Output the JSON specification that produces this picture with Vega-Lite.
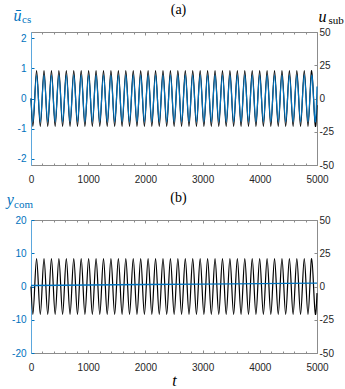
{
  "$schema": "https://vega.github.io/schema/vega-lite/v6.json",
  "background": "white",
  "padding": {"left": 6, "top": 2, "right": 0, "bottom": 0},
  "spacing": 55,
  "bounds": "flush",
  "config": {
    "view": {"stroke": null},
    "axis": {"labelFont": "Liberation Sans", "labelFontSize": 10, "labelColor": "#262626", "tickSize": -3, "tickColor": "#8c8c8c", "domainColor": "#8c8c8c", "domainWidth": 1, "tickWidth": 1, "grid": false, "titleFontWeight": "normal", "labelFlush": false, "labelOverlap": false}
  },
  "datasets": {
    "osc": [
      {"t":0,"u":0,"c":0},{"t":32.5,"u":-21,"c":-0.77},{"t":65,"u":0,"c":0},{"t":97.5,"u":21,"c":0.77},
      {"t":130,"u":0,"c":0},{"t":162.5,"u":-21,"c":-0.77},{"t":195,"u":0,"c":0},{"t":227.5,"u":21,"c":0.77},
      {"t":260,"u":0,"c":0},{"t":292.5,"u":-21,"c":-0.77},{"t":325,"u":0,"c":0},{"t":357.5,"u":21,"c":0.77},
      {"t":390,"u":0,"c":0},{"t":422.5,"u":-21,"c":-0.77},{"t":455,"u":0,"c":0},{"t":487.5,"u":21,"c":0.77},
      {"t":520,"u":0,"c":0},{"t":552.5,"u":-21,"c":-0.77},{"t":585,"u":0,"c":0},{"t":617.5,"u":21,"c":0.77},
      {"t":650,"u":0,"c":0},{"t":682.5,"u":-21,"c":-0.77},{"t":715,"u":0,"c":0},{"t":747.5,"u":21,"c":0.77},
      {"t":780,"u":0,"c":0},{"t":812.5,"u":-21,"c":-0.77},{"t":845,"u":0,"c":0},{"t":877.5,"u":21,"c":0.77},
      {"t":910,"u":0,"c":0},{"t":942.5,"u":-21,"c":-0.77},{"t":975,"u":0,"c":0},{"t":1007.5,"u":21,"c":0.77},
      {"t":1040,"u":0,"c":0},{"t":1072.5,"u":-21,"c":-0.77},{"t":1105,"u":0,"c":0},{"t":1137.5,"u":21,"c":0.77},
      {"t":1170,"u":0,"c":0},{"t":1202.5,"u":-21,"c":-0.77},{"t":1235,"u":0,"c":0},{"t":1267.5,"u":21,"c":0.77},
      {"t":1300,"u":0,"c":0},{"t":1332.5,"u":-21,"c":-0.77},{"t":1365,"u":0,"c":0},{"t":1397.5,"u":21,"c":0.77},
      {"t":1430,"u":0,"c":0},{"t":1462.5,"u":-21,"c":-0.77},{"t":1495,"u":0,"c":0},{"t":1527.5,"u":21,"c":0.77},
      {"t":1560,"u":0,"c":0},{"t":1592.5,"u":-21,"c":-0.77},{"t":1625,"u":0,"c":0},{"t":1657.5,"u":21,"c":0.77},
      {"t":1690,"u":0,"c":0},{"t":1722.5,"u":-21,"c":-0.77},{"t":1755,"u":0,"c":0},{"t":1787.5,"u":21,"c":0.77},
      {"t":1820,"u":0,"c":0},{"t":1852.5,"u":-21,"c":-0.77},{"t":1885,"u":0,"c":0},{"t":1917.5,"u":21,"c":0.77},
      {"t":1950,"u":0,"c":0},{"t":1982.5,"u":-21,"c":-0.77},{"t":2015,"u":0,"c":0},{"t":2047.5,"u":21,"c":0.77},
      {"t":2080,"u":0,"c":0},{"t":2112.5,"u":-21,"c":-0.77},{"t":2145,"u":0,"c":0},{"t":2177.5,"u":21,"c":0.77},
      {"t":2210,"u":0,"c":0},{"t":2242.5,"u":-21,"c":-0.77},{"t":2275,"u":0,"c":0},{"t":2307.5,"u":21,"c":0.77},
      {"t":2340,"u":0,"c":0},{"t":2372.5,"u":-21,"c":-0.77},{"t":2405,"u":0,"c":0},{"t":2437.5,"u":21,"c":0.77},
      {"t":2470,"u":0,"c":0},{"t":2502.5,"u":-21,"c":-0.77},{"t":2535,"u":0,"c":0},{"t":2567.5,"u":21,"c":0.77},
      {"t":2600,"u":0,"c":0},{"t":2632.5,"u":-21,"c":-0.77},{"t":2665,"u":0,"c":0},{"t":2697.5,"u":21,"c":0.77},
      {"t":2730,"u":0,"c":0},{"t":2762.5,"u":-21,"c":-0.77},{"t":2795,"u":0,"c":0},{"t":2827.5,"u":21,"c":0.77},
      {"t":2860,"u":0,"c":0},{"t":2892.5,"u":-21,"c":-0.77},{"t":2925,"u":0,"c":0},{"t":2957.5,"u":21,"c":0.77},
      {"t":2990,"u":0,"c":0},{"t":3022.5,"u":-21,"c":-0.77},{"t":3055,"u":0,"c":0},{"t":3087.5,"u":21,"c":0.77},
      {"t":3120,"u":0,"c":0},{"t":3152.5,"u":-21,"c":-0.77},{"t":3185,"u":0,"c":0},{"t":3217.5,"u":21,"c":0.77},
      {"t":3250,"u":0,"c":0},{"t":3282.5,"u":-21,"c":-0.77},{"t":3315,"u":0,"c":0},{"t":3347.5,"u":21,"c":0.77},
      {"t":3380,"u":0,"c":0},{"t":3412.5,"u":-21,"c":-0.77},{"t":3445,"u":0,"c":0},{"t":3477.5,"u":21,"c":0.77},
      {"t":3510,"u":0,"c":0},{"t":3542.5,"u":-21,"c":-0.77},{"t":3575,"u":0,"c":0},{"t":3607.5,"u":21,"c":0.77},
      {"t":3640,"u":0,"c":0},{"t":3672.5,"u":-21,"c":-0.77},{"t":3705,"u":0,"c":0},{"t":3737.5,"u":21,"c":0.77},
      {"t":3770,"u":0,"c":0},{"t":3802.5,"u":-21,"c":-0.77},{"t":3835,"u":0,"c":0},{"t":3867.5,"u":21,"c":0.77},
      {"t":3900,"u":0,"c":0},{"t":3932.5,"u":-21,"c":-0.77},{"t":3965,"u":0,"c":0},{"t":3997.5,"u":21,"c":0.77},
      {"t":4030,"u":0,"c":0},{"t":4062.5,"u":-21,"c":-0.77},{"t":4095,"u":0,"c":0},{"t":4127.5,"u":21,"c":0.77},
      {"t":4160,"u":0,"c":0},{"t":4192.5,"u":-21,"c":-0.77},{"t":4225,"u":0,"c":0},{"t":4257.5,"u":21,"c":0.77},
      {"t":4290,"u":0,"c":0},{"t":4322.5,"u":-21,"c":-0.77},{"t":4355,"u":0,"c":0},{"t":4387.5,"u":21,"c":0.77},
      {"t":4420,"u":0,"c":0},{"t":4452.5,"u":-21,"c":-0.77},{"t":4485,"u":0,"c":0},{"t":4517.5,"u":21,"c":0.77},
      {"t":4550,"u":0,"c":0},{"t":4582.5,"u":-21,"c":-0.77},{"t":4615,"u":0,"c":0},{"t":4647.5,"u":21,"c":0.77},
      {"t":4680,"u":0,"c":0},{"t":4712.5,"u":-21,"c":-0.77},{"t":4745,"u":0,"c":0},{"t":4777.5,"u":21,"c":0.77},
      {"t":4810,"u":0,"c":0},{"t":4842.5,"u":-21,"c":-0.77},{"t":4875,"u":0,"c":0},{"t":4907.5,"u":21,"c":0.77},
      {"t":4940,"u":0,"c":0},{"t":4972.5,"u":-21,"c":-0.77},{"t":5000,"u":-5,"c":0.4}
    ],
    "ycom": [
      {"t":0,"y":0.3},{"t":1000,"y":0.45},{"t":2000,"y":0.6},{"t":3000,"y":0.72},{"t":4000,"y":0.85},{"t":5000,"y":1.0}
    ]
  },
  "vconcat": [
    {
      "width": 286,
      "height": 133,
      "layer": [
        {
          "data": {"name": "osc"},
          "mark": {"type": "line", "color": "#000000", "strokeWidth": 1.2, "interpolate": "natural"},
          "encoding": {
            "x": {"field": "t", "type": "quantitative", "scale": {"domain": [0, 5000], "nice": false},
                  "axis": {"orient": "bottom", "values": [0, 1000, 2000, 3000, 4000, 5000], "format": "d", "labelPadding": 12, "title": null}},
            "y": {"field": "u", "type": "quantitative", "scale": {"domain": [-50, 50], "nice": false},
                  "axis": {"orient": "right", "values": [-50, -25, 0, 25, 50], "labelExpr": "'' + datum.value", "labelPadding": 5,
                           "title": "u", "titleFont": "Liberation Serif", "titleFontStyle": "italic", "titleFontSize": 16, "titleColor": "#000000",
                           "titleAngle": 0, "titleAlign": "left", "titleBaseline": "alphabetic", "titleX": 1, "titleY": -11}}
          }
        },
        {
          "data": {"name": "osc"},
          "mark": {"type": "line", "color": "#0072BD", "strokeWidth": 1.2, "interpolate": "natural"},
          "encoding": {
            "x": {"field": "t", "type": "quantitative", "scale": {"domain": [0, 5000], "nice": false},
                  "axis": {"orient": "top", "values": [0, 1000, 2000, 3000, 4000, 5000], "labels": false,
                           "title": "(a)", "titleFont": "Liberation Serif", "titleFontSize": 14, "titleColor": "#000000",
                           "titleAlign": "center", "titleBaseline": "alphabetic", "titleX": 147, "titleY": -19}},
            "y": {"field": "c", "type": "quantitative", "scale": {"domain": [-2.2, 2.2], "nice": false},
                  "axis": {"orient": "left", "values": [-2, -1, 0, 1, 2], "labelExpr": "'' + datum.value", "labelPadding": 8,
                           "labelColor": "#0072BD", "tickColor": "#0072BD", "domainColor": "#5ba7dd",
                           "title": "ū", "titleFont": "Liberation Serif", "titleFontStyle": "italic", "titleFontSize": 16, "titleColor": "#0072BD",
                           "titleAngle": 0, "titleAlign": "left", "titleBaseline": "alphabetic", "titleX": -18, "titleY": -12}}
          }
        },
        {
          "data": {"values": [{}]},
          "mark": {"type": "point", "opacity": 0},
          "encoding": {
            "x": {"datum": 0, "type": "quantitative", "scale": {"domain": [0, 5000], "nice": false},
                  "axis": {"orient": "bottom", "values": [200, 400, 600, 800, 1200, 1400, 1600, 1800, 2200, 2400, 2600, 2800, 3200, 3400, 3600, 3800, 4200, 4400, 4600, 4800],
                           "labels": false, "domain": false, "tickSize": -2, "title": null}},
            "y": {"datum": 0, "type": "quantitative", "scale": {"domain": [-2.2, 2.2], "nice": false},
                  "axis": {"orient": "left", "labels": false, "ticks": false, "domain": false,
                           "title": "cs", "titleFont": "Liberation Serif", "titleFontSize": 11, "titleColor": "#0072BD",
                           "titleAngle": 0, "titleAlign": "left", "titleBaseline": "alphabetic", "titleX": -9.5, "titleY": -9.5}}
          }
        },
        {
          "data": {"values": [{}]},
          "mark": {"type": "point", "opacity": 0},
          "encoding": {
            "x": {"datum": 0, "type": "quantitative", "scale": {"domain": [0, 5000], "nice": false},
                  "axis": {"orient": "top", "values": [200, 400, 600, 800, 1200, 1400, 1600, 1800, 2200, 2400, 2600, 2800, 3200, 3400, 3600, 3800, 4200, 4400, 4600, 4800],
                           "labels": false, "domain": false, "tickSize": -2, "title": null}},
            "y": {"datum": 0, "type": "quantitative", "scale": {"domain": [-50, 50], "nice": false},
                  "axis": {"orient": "right", "labels": false, "ticks": false, "domain": false,
                           "title": "sub", "titleFont": "Liberation Serif", "titleFontSize": 11, "titleColor": "#000000",
                           "titleAngle": 0, "titleAlign": "left", "titleBaseline": "alphabetic", "titleX": 11, "titleY": -8.5}}
          }
        }
      ],
      "resolve": {"scale": {"y": "independent"}, "axis": {"x": "independent", "y": "independent"}}
    },
    {
      "width": 286,
      "height": 133,
      "layer": [
        {
          "data": {"name": "osc"},
          "mark": {"type": "line", "color": "#000000", "strokeWidth": 1.2, "interpolate": "natural"},
          "encoding": {
            "x": {"field": "t", "type": "quantitative", "scale": {"domain": [0, 5000], "nice": false},
                  "axis": {"orient": "bottom", "values": [0, 1000, 2000, 3000, 4000, 5000], "format": "d", "labelPadding": 12,
                           "title": "t", "titleFont": "Liberation Serif", "titleFontStyle": "italic", "titleFontSize": 16, "titleColor": "#000000",
                           "titleAlign": "center", "titleBaseline": "alphabetic", "titleX": 143, "titleY": 32}},
            "y": {"field": "u", "type": "quantitative", "scale": {"domain": [-50, 50], "nice": false},
                  "axis": {"orient": "right", "values": [-50, -25, 0, 25, 50], "labelExpr": "'' + datum.value", "labelPadding": 5, "title": null}}
          }
        },
        {
          "data": {"name": "ycom"},
          "mark": {"type": "line", "color": "#0072BD", "strokeWidth": 1.3},
          "encoding": {
            "x": {"field": "t", "type": "quantitative", "scale": {"domain": [0, 5000], "nice": false},
                  "axis": {"orient": "top", "values": [0, 1000, 2000, 3000, 4000, 5000], "labels": false,
                           "title": "(b)", "titleFont": "Liberation Serif", "titleFontSize": 14, "titleColor": "#000000",
                           "titleAlign": "center", "titleBaseline": "alphabetic", "titleX": 147, "titleY": -19}},
            "y": {"field": "y", "type": "quantitative", "scale": {"domain": [-20, 20], "nice": false},
                  "axis": {"orient": "left", "values": [-20, -10, 0, 10, 20], "labelExpr": "'' + datum.value", "labelPadding": 8,
                           "labelColor": "#0072BD", "tickColor": "#0072BD", "domainColor": "#5ba7dd",
                           "title": "y", "titleFont": "Liberation Serif", "titleFontStyle": "italic", "titleFontSize": 16, "titleColor": "#0072BD",
                           "titleAngle": 0, "titleAlign": "left", "titleBaseline": "alphabetic", "titleX": -24.7, "titleY": -16}}
          }
        },
        {
          "data": {"values": [{}]},
          "mark": {"type": "point", "opacity": 0},
          "encoding": {
            "x": {"datum": 0, "type": "quantitative", "scale": {"domain": [0, 5000], "nice": false},
                  "axis": {"orient": "bottom", "values": [200, 400, 600, 800, 1200, 1400, 1600, 1800, 2200, 2400, 2600, 2800, 3200, 3400, 3600, 3800, 4200, 4400, 4600, 4800],
                           "labels": false, "domain": false, "tickSize": -2, "title": null}},
            "y": {"datum": 0, "type": "quantitative", "scale": {"domain": [-20, 20], "nice": false},
                  "axis": {"orient": "left", "labels": false, "ticks": false, "domain": false,
                           "title": "com", "titleFont": "Liberation Serif", "titleFontSize": 11, "titleColor": "#0072BD",
                           "titleAngle": 0, "titleAlign": "left", "titleBaseline": "alphabetic", "titleX": -17.4, "titleY": -12.6}}
          }
        },
        {
          "data": {"values": [{}]},
          "mark": {"type": "point", "opacity": 0},
          "encoding": {
            "x": {"datum": 0, "type": "quantitative", "scale": {"domain": [0, 5000], "nice": false},
                  "axis": {"orient": "top", "values": [200, 400, 600, 800, 1200, 1400, 1600, 1800, 2200, 2400, 2600, 2800, 3200, 3400, 3600, 3800, 4200, 4400, 4600, 4800],
                           "labels": false, "domain": false, "tickSize": -2, "title": null}}
          }
        }
      ],
      "resolve": {"scale": {"y": "independent"}, "axis": {"x": "independent", "y": "independent"}}
    }
  ]
}
